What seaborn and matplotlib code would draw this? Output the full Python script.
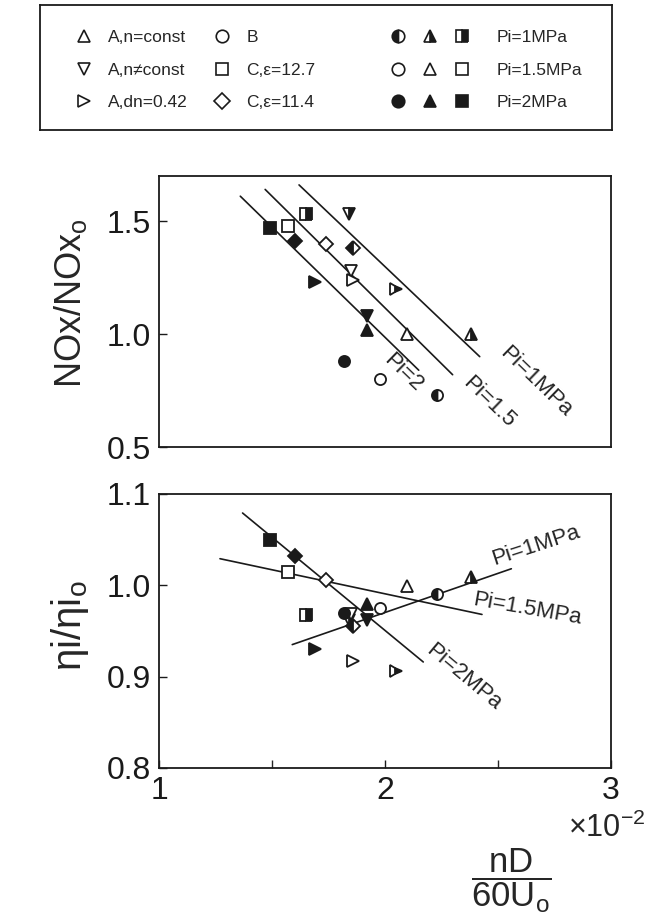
import matplotlib
matplotlib.use("Agg")
import matplotlib.pyplot as plt
import seaborn as sns
from matplotlib.lines import Line2D
from matplotlib.legend_handler import HandlerTuple

# nD/60U0 (x10^-2), order: Pi = 1, 1.5, 2 MPa
x_up = [2.38, 2.10, 1.92]       # A, n=const
x_down = [1.84, 1.85, 1.92]     # A, n!=const
x_right = [2.05, 1.86, 1.69]    # A, dn=0.42
x_circle = [2.23, 1.98, 1.82]   # B
x_square = [1.65, 1.57, 1.49]   # C, eps=12.7
x_diamond = [1.86, 1.74, 1.60]  # C, eps=11.4

# NOx/NOx0
nox_up = [1.00, 1.00, 1.02]
nox_down = [1.53, 1.28, 1.08]
nox_right = [1.20, 1.24, 1.23]
nox_circle = [0.73, 0.80, 0.88]
nox_square = [1.53, 1.48, 1.47]
nox_diamond = [1.38, 1.40, 1.41]

# eta_i/eta_i0
eta_up = [1.009, 0.999, 0.979]
eta_down = [0.962, 0.968, 0.962]
eta_right = [0.906, 0.917, 0.930]
eta_circle = [0.990, 0.975, 0.970]
eta_square = [0.967, 1.014, 1.050]
eta_diamond = [0.955, 1.006, 1.032]

# fitted lines (end points), Pi = 1, 1.5, 2 MPa
nox_fit_x = [[1.62, 2.42], [1.47, 2.30], [1.36, 2.15]]
nox_fit_y = [[1.66, 0.90], [1.64, 0.82], [1.61, 0.84]]
eta_fit_x = [[1.59, 2.56], [1.27, 2.43], [1.37, 2.17]]
eta_fit_y = [[0.935, 1.018], [1.029, 0.968], [1.079, 0.916]]

nox_line_labels = ["Pi=1MPa", "Pi=1.5", "Pi=2"]
eta_line_labels = ["Pi=1MPa", "Pi=1.5MPa", "Pi=2MPa"]
series_labels = ["A,n=const", "A,n\u2260const", "A,dn=0.42", "B", "C,\u03b5=12.7", "C,\u03b5=11.4"]
pi_labels = ["Pi=1MPa", "Pi=1.5MPa", "Pi=2MPa"]

sns.set_theme(style="ticks")
plt.rcParams["font.family"] = ["Liberation Sans", "DejaVu Sans"]
plt.rcParams["mathtext.fontset"] = "custom"
plt.rcParams["mathtext.rm"] = "Liberation Sans"
plt.rcParams["mathtext.it"] = "Liberation Sans:italic"
plt.rcParams["xtick.direction"] = "in"
plt.rcParams["ytick.direction"] = "in"

fig = plt.figure(figsize=(6.49, 9.16), dpi=100)
ax_top = fig.add_axes([0.245, 0.512, 0.696, 0.296])
ax_bot = fig.add_axes([0.245, 0.1616, 0.696, 0.2993])

markers = ["^", "v", ">", "o", "s", "D"]
halves = ["right", "right", "right", "left", "right", "left"]
xs_all = [x_up, x_down, x_right, x_circle, x_square, x_diamond]
nox_all = [nox_up, nox_down, nox_right, nox_circle, nox_square, nox_diamond]
eta_all = [eta_up, eta_down, eta_right, eta_circle, eta_square, eta_diamond]


def pi_style(i, half):
    if i == 0:
        return dict(fillstyle=half, markerfacecolor="k", markerfacecoloralt="w")
    if i == 1:
        return dict(markerfacecolor="w")
    return dict(markerfacecolor="k")


for ax, fx, fy in [(ax_top, nox_fit_x, nox_fit_y), (ax_bot, eta_fit_x, eta_fit_y)]:
    for i in range(3):
        sns.lineplot(x=fx[i], y=fy[i], ax=ax, color="k", lw=1.2)

for ax, ys_all in [(ax_top, nox_all), (ax_bot, eta_all)]:
    for m, half, xs, ys in zip(markers, halves, xs_all, ys_all):
        for i in range(3):
            ms = 7.5 if m == "D" else 8
            ax.plot(xs[i], ys[i], marker=m, ls="none", ms=ms, mec="k", mew=1.3,
                    zorder=3, **pi_style(i, half))

# line labels
lab = dict(fontsize=16, ha="center", va="center")
ax_top.text(2.67, 0.79, nox_line_labels[0], rotation=-44, **lab)
ax_top.text(2.46, 0.70, nox_line_labels[1], rotation=-44, **lab)
ax_top.text(2.08, 0.83, nox_line_labels[2], rotation=-44, **lab)
ax_bot.text(2.67, 1.043, eta_line_labels[0], rotation=18, **lab)
ax_bot.text(2.63, 0.974, eta_line_labels[1], rotation=-10, **lab)
ax_bot.text(2.35, 0.899, eta_line_labels[2], rotation=-40, **lab)

for ax in (ax_top, ax_bot):
    ax.set_xlim(1, 3)
    for s in ax.spines.values():
        s.set_visible(True)
        s.set_linewidth(1.3)
        s.set_color("k")
    ax.tick_params(axis="both", length=6, width=1, labelsize=23, pad=6, colors="k")
    ax.tick_params(which="minor", length=6, width=1)

ax_top.set_ylim(0.5, 1.7)
ax_top.set_yticks([0.5, 1.0, 1.5])
ax_top.set_yticklabels(["0.5", "1.0", "1.5"])
ax_top.set_xticks([])
ax_top.set_ylabel("NOx/NOx$_\\mathregular{o}$", fontsize=26)
ax_top.yaxis.set_label_coords(-0.155, 0.53)

ax_bot.set_ylim(0.8, 1.1)
ax_bot.set_yticks([0.8, 0.9, 1.0, 1.1])
ax_bot.set_yticklabels(["0.8", "0.9", "1.0", "1.1"])
ax_bot.set_xticks([1, 2, 3])
ax_bot.set_xticklabels(["1", "2", "3"])
ax_bot.set_xticks([1.5, 2.5], minor=True)
ax_bot.set_ylabel("\u03b7i/\u03b7i$_\\mathregular{o}$", fontsize=29)
ax_bot.yaxis.set_label_coords(-0.15, 0.52)
ax_bot.set_xlabel(r"$\dfrac{\mathregular{nD}}{\mathregular{60U}_\mathregular{o}}$", fontsize=25, va="center")
ax_bot.xaxis.set_label_coords(0.78, -0.41)
ax_bot.text(0.99, -0.22, "\u00d710$^{\\mathregular{-2}}$", transform=ax_bot.transAxes,
            fontsize=22, ha="center", va="center")

# legend box
lbox = fig.add_axes([0.0616, 0.858, 0.881, 0.1365])
lbox.set_xticks([])
lbox.set_yticks([])
for s in lbox.spines.values():
    s.set_linewidth(1.3)
    s.set_color("k")

h1 = [Line2D([], [], marker=m, ls="none", ms=9 if m != "D" else 8.5, mec="k", mew=1.2, markerfacecolor="w")
      for m in markers]
leg1 = fig.legend(h1, series_labels, loc="upper left", bbox_to_anchor=(0.1174, 0.9672), ncol=2,
                  frameon=False, borderpad=0, borderaxespad=0, handlelength=0.9, handletextpad=0.93,
                  columnspacing=1.55, labelspacing=1.0, fontsize=12.5)

h2 = []
for i in range(3):
    h2.append(tuple(Line2D([], [], marker=m, ls="none", ms=9, mec="k", mew=1.2, **pi_style(i, half))
                    for m, half in [("o", "left"), ("^", "right"), ("s", "right")]))
leg2 = fig.legend(h2, pi_labels, loc="upper left", bbox_to_anchor=(0.5886, 0.9672),
                  handler_map={tuple: HandlerTuple(ndivide=None, pad=0)},
                  frameon=False, borderpad=0, borderaxespad=0, handlelength=5.52, handletextpad=1.09,
                  labelspacing=1.0, fontsize=12.5)

fig.savefig("out.png", dpi=100)
